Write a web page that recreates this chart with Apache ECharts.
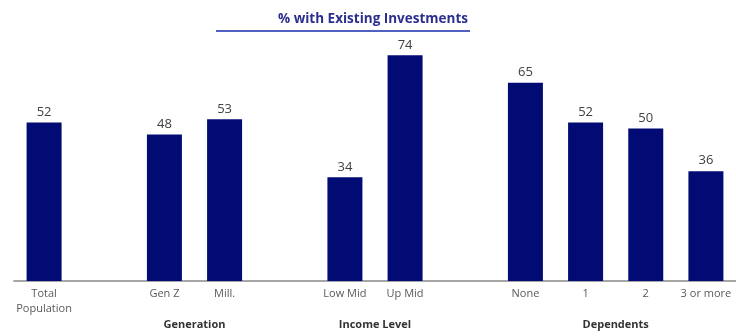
<!DOCTYPE html>
<html><head><meta charset="utf-8">
<script src="https://cdn.jsdelivr.net/npm/echarts@6/dist/echarts.min.js"></script>
<style>html,body{margin:0;padding:0;background:#fff}#c{width:736px;height:336px}</style>
</head><body><div id="c"></div>
<script>
var categories = ['Total\nPopulation', '', 'Gen Z', 'Mill.', '', 'Low Mid', 'Up Mid', '', 'None', '1', '2', '3 or more'];
var values = [52, null, 48, 53, null, 34, 74, null, 65, 52, 50, 36];
var groupNames = ['Generation', 'Income Level', 'Dependents'];
var groupSpans = [[2, 3], [5, 6], [8, 11]];
var titleText = '% with Existing Investments';

var chart = echarts.init(document.getElementById('c'), null, {renderer: 'canvas'});
var font = '"Open Sans", "Noto Sans", sans-serif';
chart.setOption({
  animation: false,
  title: {text: titleText, left: 368, top: 7, textAlign: 'center',
    textStyle: {fontFamily: font, fontSize: 13.5, fontWeight: 'bold', color: '#2b2f8f'}},
  grid: {left: 14, top: 37, width: 724, height: 244, containLabel: false},
  xAxis: {type: 'category', data: categories, boundaryGap: true,
    axisLine: {lineStyle: {color: '#a6a6a6', width: 2}},
    axisTick: {show: false},
    axisLabel: {interval: 0, margin: 5, fontFamily: font, fontSize: 11, color: '#595959', lineHeight: 15}},
  yAxis: {type: 'value', min: 0, max: 80, show: false, splitLine: {show: false}},
  series: [{type: 'bar', data: values, barWidth: 35,
    itemStyle: {color: '#020b73'},
    label: {show: true, position: 'top', distance: 4, fontFamily: font, fontSize: 13, color: '#404040'}}]
});

var graphics = [{type: 'line', shape: {x1: 216, y1: 31, x2: 470, y2: 31},
  style: {stroke: '#5060c0', lineWidth: 2}}];
groupNames.forEach(function (name, i) {
  var a = chart.convertToPixel({xAxisIndex: 0}, groupSpans[i][0]);
  var b = chart.convertToPixel({xAxisIndex: 0}, groupSpans[i][1]);
  graphics.push({type: 'text', x: (a + b) / 2, y: 325,
    style: {text: name, textAlign: 'center', textVerticalAlign: 'middle',
      font: 'bold 11px ' + font, fill: '#333333'}});
});
chart.setOption({graphic: graphics});
</script></body></html>
